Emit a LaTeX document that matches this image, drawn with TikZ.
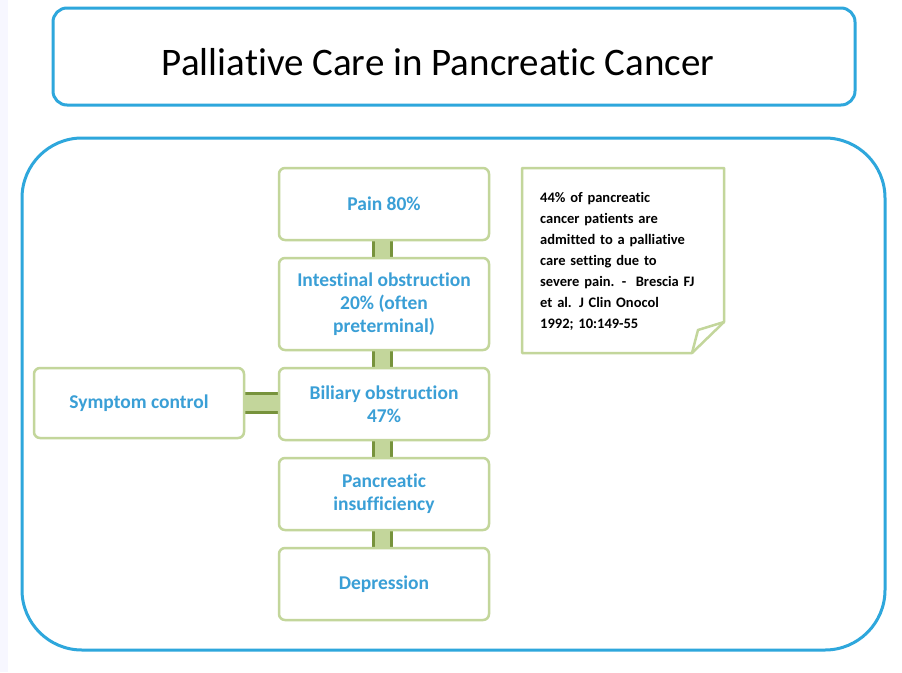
\documentclass[tikz,border=0pt]{standalone}
\usepackage{fontspec}
\setmainfont{Carlito}[RawFeature={-liga}]
\definecolor{bblue}{HTML}{2EA7DC}
\definecolor{lgreen}{HTML}{C3D69B}
\definecolor{dgreen}{HTML}{77933C}
\definecolor{tblue}{HTML}{3A9FD6}
\tikzset{
 box/.style={draw=lgreen,line width=2.5pt,fill=white,rounded corners=6pt,minimum width=210pt,minimum height=70pt,align=center,text=tblue,font=\bfseries\fontsize{19.5}{23}\selectfont,inner sep=2pt},
}
\begin{document}
\begin{tikzpicture}[x=1pt,y=-1pt]
\useasboundingbox (0,0) rectangle (902,672);
\fill[white] (0,0) rectangle (902,672);
\fill[blue!3] (0,0) rectangle (8,672);
\draw[bblue,line width=3pt,rounded corners=14pt] (53,8) rectangle (855,105);
\node[font=\fontsize{39}{44}\selectfont] (title) at (438,62) {Palliative Care in Pancreatic Cancer};
\draw[bblue,line width=3pt,rounded corners=60pt] (22,138) rectangle (885,650);
% connectors
\foreach \ya/\yb in {240/258,350/368,440/458,530/548}{
 \fill[lgreen] (372,\ya) rectangle (392,\yb);
 \draw[dgreen,line width=3pt] (373,\ya) -- (373,\yb) (391,\ya) -- (391,\yb);
}
\fill[lgreen] (245,392) rectangle (278,413);
\draw[dgreen,line width=3pt] (245,393) -- (278,393) (245,412) -- (278,412);
\node[box,minimum height=72pt] (p1) at (384,204) {Pain 80\%};
\node[box,minimum height=92pt] (p2) at (384,304) {Intestinal obstruction\\20\% (often\\preterminal)};
\node[box,minimum height=72pt] (p3) at (384,404) {Biliary obstruction\\47\%};
\node[box,minimum height=72pt] (p4) at (384,494) {Pancreatic\\insufficiency};
\node[box,minimum height=72pt] (p5) at (384,584) {Depression};
\node[box,minimum height=70pt] (sc) at (139,403) {Symptom control};
% note
\draw[lgreen,line width=2.5pt,fill=white,line join=round] (522,168) -- (724,168) -- (724,322) -- (692,353) -- (522,353) -- cycle;
\draw[lgreen,line width=2.5pt,line join=round] (724,322) -- (698,330) -- (692,353);
\node[anchor=north west,align=left,font=\bfseries\fontsize{14.5}{21}\selectfont,text width=180pt,inner sep=0pt] (note) at (540,192) {44\% of pancreatic\\cancer patients are\\admitted to a palliative\\care setting due to\\severe pain. -\ \ Brescia FJ\\et al. J Clin Onocol\\1992; 10:149-55};
\end{tikzpicture}
\end{document}
